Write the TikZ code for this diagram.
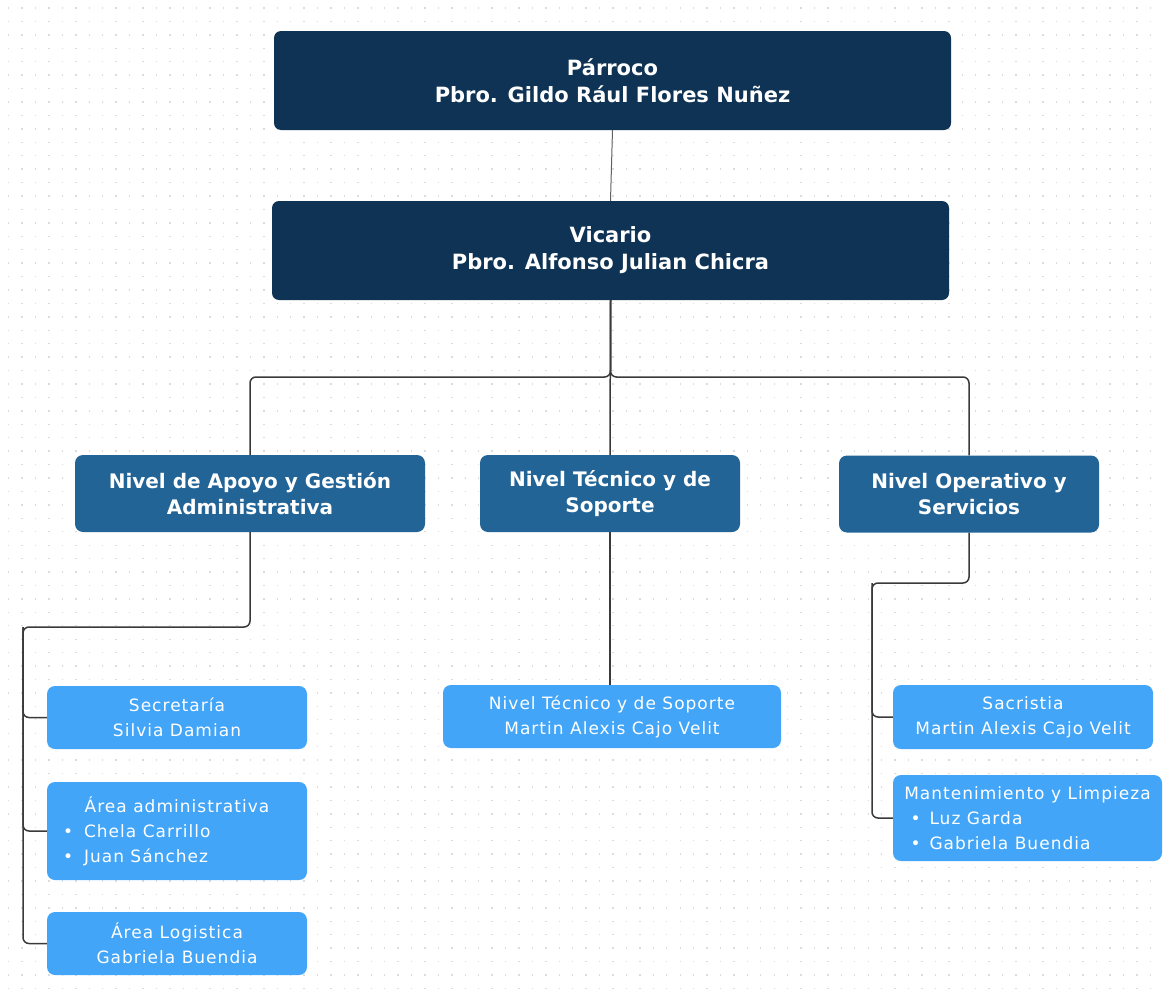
\documentclass[tikz,border=0pt]{standalone}
\usepackage{fontspec}
\setmainfont{DejaVu Sans}
\newfontfamily\topfont{DejaVu Sans}
\newfontfamily\lowfont[LetterSpace=6]{DejaVu Sans}
\definecolor{navy}{HTML}{0F3354}
\definecolor{midblue}{HTML}{236497}
\definecolor{lightblue}{HTML}{42A5F8}
\definecolor{conncol}{HTML}{3A3A3A}
\definecolor{dotcol}{HTML}{DCDCDC}
\tikzset{
  topbox/.style={fill=navy, rounded corners=7pt, minimum width=677pt, minimum height=99pt, text=white, align=center, inner sep=0pt, font=\topfont\bfseries\fontsize{21}{27}\selectfont},
  midbox/.style={fill=midblue, rounded corners=8pt, minimum height=77pt, text=white, align=center, inner sep=0pt, font=\topfont\bfseries\fontsize{20}{26}\selectfont},
  lowbox/.style={fill=lightblue, rounded corners=8pt, text=white, align=center, inner sep=0pt, font=\lowfont\fontsize{17}{25}\selectfont},
  conn/.style={draw=conncol, line width=1.5pt, rounded corners=6pt},
  thinconn/.style={draw=conncol!80, line width=1pt},
  griddot/.style={draw=dotcol, line width=1.4pt, dash pattern=on 1.4pt off 12.03pt}
}
\begin{document}
\begin{tikzpicture}[x=1pt,y=-1pt]
\useasboundingbox (0,0) rectangle (1163,993);
\fill[white] (0,0) rectangle (1163,993);
\foreach \k in {0,...,73} \draw[griddot] (8,{8+13.43*\k}) -- (1163,{8+13.43*\k});

% top level
\node[topbox] (parroco) at (612.5,80.5) {Párroco\\Pbro. Gildo Rául Flores Nuñez};
\node[topbox] (vicario) at (610.5,250.5) {Vicario\\Pbro. Alfonso Julian Chicra};

% mid level
\node[midbox, minimum width=350pt] (apoyo) at (250,493.5) {Nivel de Apoyo y Gestión\\Administrativa};
\node[midbox, minimum width=260pt] (tecnico) at (610,493.5) {Nivel Técnico y de\\Soporte};
\node[midbox, minimum width=260pt] (operativo) at (969,494) {Nivel Operativo y\\Servicios};

% low level
\node[lowbox, minimum width=260pt, minimum height=63pt] (sec) at (177,717.5) {Secretaría\\Silvia Damian};
\node[lowbox, minimum width=260pt, minimum height=98pt] (adm) at (177,831) {\parbox{236pt}{\centering Área administrativa\par\raggedright\hspace*{4pt}•\hspace{11pt}Chela Carrillo\par\hspace*{4pt}•\hspace{11pt}Juan Sánchez}};
\node[lowbox, minimum width=260pt, minimum height=63pt] (log) at (177,943.5) {Área Logistica\\Gabriela Buendia};
\node[lowbox, minimum width=338pt, minimum height=63pt] (tec2) at (612,716.5) {Nivel Técnico y de Soporte\\Martin Alexis Cajo Velit};
\node[lowbox, minimum width=260pt, minimum height=64pt] (sac) at (1023,717) {Sacristia\\Martin Alexis Cajo Velit};
\node[lowbox, minimum width=269pt, minimum height=86pt] (mant) at (1027.5,818) {\parbox{262pt}{\centering Mantenimiento y Limpieza\par\raggedright\hspace*{14pt}•\hspace{9pt}Luz Garda\par\hspace*{14pt}•\hspace{9pt}Gabriela Buendia}};

% connectors
\coordinate (bus) at (610,377);
\coordinate (lt) at (23,627);
\coordinate (rt) at (872,583);
\draw[thinconn] (parroco.south) -- (vicario.north);
\draw[conn] (vicario.south) -- (vicario.south |- bus) -| (apoyo.north);
\draw[conn] (vicario.south) -- (vicario.south |- bus) -| (operativo.north);
\draw[conn] (vicario.south) -- (tecnico.north);
\draw[conn] (tecnico.south) -- (tecnico.south |- tec2.north);
\draw[conn] (apoyo.south) |- (lt) |- (sec.west);
\draw[conn] (lt) |- (adm.west);
\draw[conn] (lt) |- (log.west);
\draw[conn] (operativo.south) |- (rt) |- (sac.west);
\draw[conn] (rt) |- (mant.west);
\end{tikzpicture}
\end{document}
